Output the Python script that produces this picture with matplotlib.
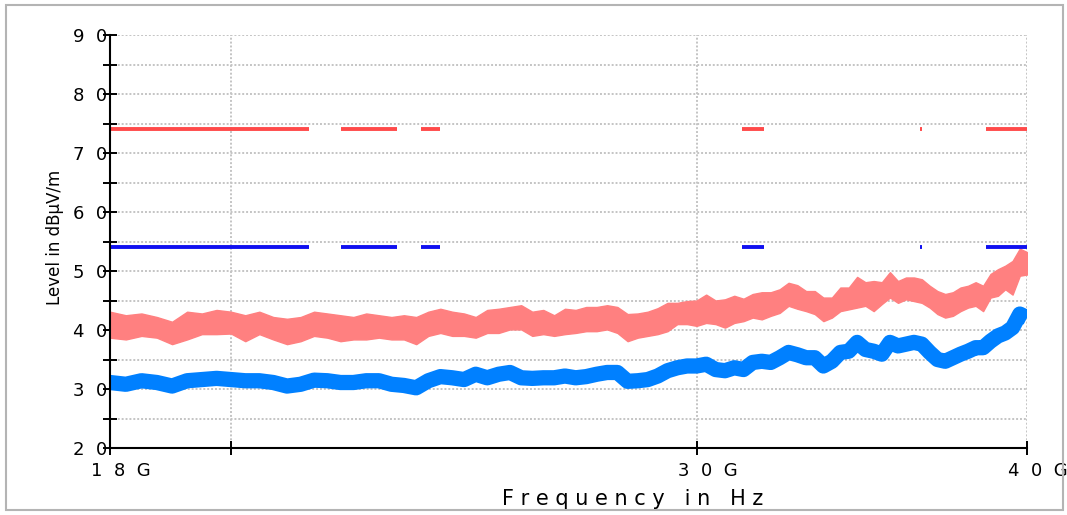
import numpy as np
import matplotlib
matplotlib.use("Agg")
import matplotlib.pyplot as plt
import matplotlib.transforms as mtransforms
from matplotlib.patches import Rectangle

# sweep grid in GHz (18 - 40 GHz, 250 MHz steps)
freq_ghz = np.arange(18.0, 40.001, 0.25)

# peak detector trace: upper and lower edge of the noisy band (dBuV/m)
peak_hi = [43.1, 42.5, 42.8, 42.2, 41.4, 43.1, 42.8, 43.4, 43.1, 42.5,
           43.1, 42.2, 41.9, 42.2, 43.1, 42.8, 42.5, 42.2, 42.8, 42.5,
           42.2, 42.5, 42.2, 43.1, 43.6, 43.1, 42.8, 42.2, 43.4, 43.6,
           43.9, 44.2, 43.1, 43.4, 42.5, 43.6, 43.4, 43.9, 43.9, 44.2,
           43.9, 42.7, 42.8, 43.1, 43.7, 44.6, 44.6, 44.9, 45.0, 46.0,
           45.0, 45.2, 45.8, 45.3, 46.1, 46.4, 46.4, 46.9, 48.0, 47.6,
           46.6, 46.6, 45.5, 45.5, 47.2, 47.2, 49.0, 48.1, 48.3, 48.1,
           49.8, 48.3, 48.9, 48.9, 48.6, 47.5, 46.6, 46.1, 46.4, 47.2,
           47.5, 48.1, 47.5, 49.5, 50.3, 50.9, 51.7, 53.8, 53.2]
peak_lo = [38.7, 38.4, 39.0, 38.7, 37.6, 38.4, 39.3, 39.3, 39.4, 38.1,
           39.3, 38.4, 37.6, 38.1, 39.0, 38.7, 38.1, 38.4, 38.4, 38.7,
           38.4, 38.4, 37.6, 39.0, 39.5, 39.0, 39.0, 38.7, 39.5, 39.5,
           40.1, 40.1, 39.0, 39.3, 39.0, 39.3, 39.5, 39.8, 39.8, 40.1,
           39.5, 38.1, 38.7, 39.0, 39.3, 39.8, 41.0, 41.0, 40.7, 41.2,
           41.0, 40.4, 41.2, 41.5, 42.1, 41.8, 42.4, 42.9, 44.1, 43.6,
           43.2, 42.7, 41.5, 42.1, 43.2, 43.5, 43.8, 44.1, 43.2, 44.4,
           45.5, 44.6, 45.2, 44.9, 44.6, 43.8, 42.7, 42.1, 42.4, 43.2,
           43.8, 44.1, 43.2, 45.5, 45.8, 46.9, 46.0, 49.2, 49.4]

# average detector trace (dBuV/m)
avg_level = [31.1, 30.8, 31.4, 31.1, 30.5, 31.4, 31.6, 31.8, 31.6, 31.4,
             31.4, 31.1, 30.5, 30.8, 31.5, 31.4, 31.1, 31.1, 31.4, 31.4,
             30.8, 30.6, 30.2, 31.4, 32.1, 31.9, 31.6, 32.5, 31.9, 32.5,
             32.8, 31.9, 31.8, 31.9, 31.9, 32.2, 31.9, 32.1, 32.5, 32.8,
             32.8, 31.3, 31.4, 31.6, 32.2, 33.1, 33.6, 33.9, 33.9, 34.2,
             33.3, 33.1, 33.6, 33.3, 34.5, 34.7, 34.5, 35.3, 36.2, 35.8,
             35.3, 35.3, 33.9, 34.7, 36.2, 36.4, 37.9, 36.7, 36.4, 35.9,
             37.9, 37.3, 37.6, 37.9, 37.6, 36.2, 35.0, 34.7, 35.3, 35.9,
             36.4, 37.0, 37.0, 38.1, 39.0, 39.5, 40.4, 42.7, 42.1]

# limit lines, only drawn inside the restricted bands
band_start = [18.0, 22.01, 23.6, 31.2, 36.43, 38.6]
band_stop = [21.4, 23.12, 24.0, 31.8, 36.5, 40.0]
peak_limit = 74
avg_limit = 54

x_ticks = [18, 20, 30, 40]
x_tick_labels = ["1  8  G", "", "3  0  G", "4  0  G"]
y_ticks = [20, 30, 40, 50, 60, 70, 80, 90]
y_tick_labels = ["2  0", "3  0", "4  0", "5  0", "6  0", "7  0", "8  0", "9  0"]

fig = plt.figure(figsize=(10.67, 5.15), dpi=100)
ax = fig.add_axes([110 / 1067, 67 / 515, 917 / 1067, 413 / 515])

ax.fill_between(freq_ghz, peak_lo, peak_hi, color="#ff8080", linewidth=1.0,
                edgecolor="#ff8080", zorder=3)
ax.plot(freq_ghz, avg_level, color="#0080ff", linewidth=11,
        solid_joinstyle="round", solid_capstyle="butt", zorder=4)

n_bands = len(band_start)
ax.hlines([peak_limit] * n_bands, band_start, band_stop, color="#ff4a4a",
          linewidth=2.8, zorder=5)
ax.hlines([avg_limit] * n_bands, band_start, band_stop, color="#1010f0",
          linewidth=2.8, zorder=5)

ax.set_xscale("log")
ax.set_xlim(18, 40)
ax.set_ylim(20, 90)

ax.xaxis.set_major_locator(matplotlib.ticker.FixedLocator(x_ticks))
ax.xaxis.set_minor_locator(matplotlib.ticker.NullLocator())
ax.set_xticklabels(x_tick_labels)
ax.set_yticks(y_ticks)
ax.set_yticklabels(y_tick_labels)
ax.set_yticks(np.arange(25, 90, 10), minor=True)

ax.tick_params(axis="both", which="both", direction="inout", length=10,
               width=1.4, color="black")
ax.tick_params(axis="y", pad=-3, labelsize=13)
ax.tick_params(axis="x", pad=5, labelsize=13)

shift = mtransforms.ScaledTranslation(11 / 100, 0, fig.dpi_scale_trans)
for lab in ax.get_xticklabels():
    lab.set_transform(lab.get_transform() + shift)

ax.grid(True, which="both", color="#c4c4c4", linestyle=(0, (1, 1)), linewidth=1.4)
ax.set_axisbelow(True)

for side in ["top", "right"]:
    ax.spines[side].set_visible(False)
for side in ["left", "bottom"]:
    ax.spines[side].set_linewidth(1.5)
    ax.spines[side].set_zorder(6)

fig.text(55 / 1067, 1 - 237 / 515, "Level in dBµV/m", rotation=90,
         ha="center", va="center", fontsize=12)
fig.text(633 / 1067, 1 - 499 / 515, "F r e q u e n c y   i n   H z",
         ha="center", va="center", fontsize=15)

fig.patches.append(Rectangle((6 / 1067, 5 / 515), 1057 / 1067, 505 / 515,
                             transform=fig.transFigure, fill=False,
                             edgecolor="#b4b4b4", linewidth=1.5))

fig.savefig("out.png", dpi=100)
